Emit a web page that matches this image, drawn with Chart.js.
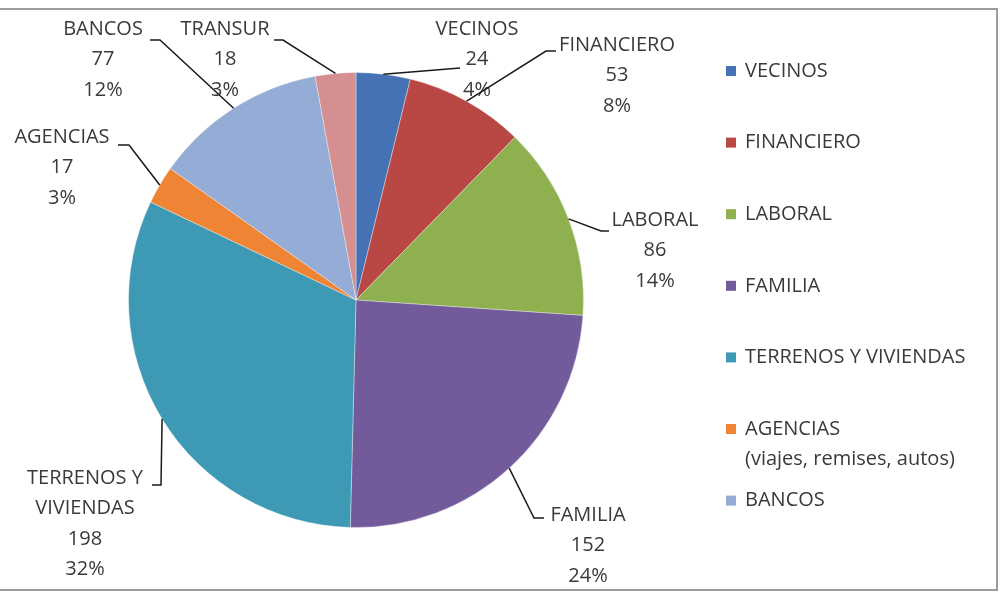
<!DOCTYPE html>
<html>
<head>
<meta charset="utf-8">
<script src="https://cdn.jsdelivr.net/npm/chart.js@4.4.1/dist/chart.umd.min.js"></script>
<style>
html,body{margin:0;padding:0;background:#fff;}
#wrap{width:1000px;height:600px;position:relative;}
</style>
</head>
<body>
<div id="wrap"><canvas id="c" width="1000" height="600"></canvas></div>
<script>
// ---- data ----
const categories = ['VECINOS','FINANCIERO','LABORAL','FAMILIA','TERRENOS Y VIVIENDAS','AGENCIAS','BANCOS','TRANSUR'];
const values = [24, 53, 86, 152, 198, 17, 77, 18];
const labelNames = [['VECINOS'],['FINANCIERO'],['LABORAL'],['FAMILIA'],['TERRENOS Y','VIVIENDAS'],['AGENCIAS'],['BANCOS'],['TRANSUR']];
const legendLabels = [['VECINOS'],['FINANCIERO'],['LABORAL'],['FAMILIA'],['TERRENOS Y VIVIENDAS'],['AGENCIAS','(viajes, remises, autos)'],['BANCOS']];
const colors = ['#4572B4','#B94744','#8FB04F','#735A9A','#3E9AB4','#EE8434','#94ACD6','#D58F91'];

const total = values.reduce((a,b)=>a+b,0);
const FONT = '20px "Open Sans", "DejaVu Sans", sans-serif';
const TEXT = '#3a3a3a';

// label layout: text center x, first line center y, elbow point, end point
const labelLayout = [
  {cx:477, cy:29, ex:460, ey:68, tx:460, ty:68},
  {cx:617, cy:45, ex:546, ey:51, tx:556, ty:51},
  {cx:655, cy:220, ex:601, ey:231, tx:609, ty:231},
  {cx:588, cy:515, ex:534, ey:518, tx:544, ty:518},
  {cx:85,  cy:478, ex:161, ey:485, tx:152, ty:485},
  {cx:62,  cy:137, ex:129, ey:145, tx:118, ty:145},
  {cx:103, cy:29,  ex:160, ey:40,  tx:150, ty:40},
  {cx:225, cy:29,  ex:283, ey:40,  tx:274, ty:40}
];
const LINE_H = 30.5;

const framePlugin = {
  id:'frame',
  beforeDraw(chart){
    const ctx = chart.ctx;
    ctx.save();
    ctx.fillStyle = '#fff';
    ctx.fillRect(0,0,chart.width,chart.height);
    ctx.strokeStyle = '#9c9c9c';
    ctx.lineWidth = 2;
    ctx.beginPath();
    ctx.moveTo(0,9); ctx.lineTo(997,9); ctx.lineTo(997,590); ctx.lineTo(0,590);
    ctx.stroke();
    ctx.restore();
  }
};

const labelPlugin = {
  id:'pieLabels',
  afterDatasetsDraw(chart){
    const ctx = chart.ctx;
    const meta = chart.getDatasetMeta(0);
    ctx.save();
    ctx.font = FONT;
    ctx.textAlign = 'center';
    ctx.textBaseline = 'middle';
    meta.data.forEach((arc, i) => {
      const p = arc.getProps(['x','y','startAngle','endAngle','outerRadius'], true);
      const mid = (p.startAngle + p.endAngle)/2;
      const ax = p.x + Math.cos(mid)*p.outerRadius;
      const ay = p.y + Math.sin(mid)*p.outerRadius;
      const L = labelLayout[i];
      ctx.strokeStyle = '#1a1a1a';
      ctx.lineWidth = 1.5;
      ctx.beginPath();
      ctx.moveTo(ax, ay);
      ctx.lineTo(L.ex, L.ey);
      ctx.lineTo(L.tx, L.ty);
      ctx.stroke();
      const lines = labelNames[i].concat([String(values[i]), Math.round(values[i]/total*100) + '%']);
      ctx.fillStyle = TEXT;
      lines.forEach((t, k) => ctx.fillText(t, L.cx, L.cy + k*LINE_H));
    });
    // legend
    const lx = 726, ltx = 745, ly0 = 71, step = 71.6, sub = 30;
    ctx.textAlign = 'left';
    legendLabels.forEach((lines, i) => {
      const y = ly0 + i*step;
      ctx.fillStyle = colors[i];
      ctx.fillRect(lx, y-5, 10, 10);
      ctx.fillStyle = TEXT;
      lines.forEach((t, k) => ctx.fillText(t, ltx, y + k*sub));
    });
    ctx.restore();
  }
};

new Chart(document.getElementById('c'), {
  type:'pie',
  data:{
    labels: categories,
    datasets:[{
      data: values,
      backgroundColor: colors,
      borderColor: 'rgba(255,255,255,0.35)',
      borderWidth: 1
    }]
  },
  options:{
    responsive:false,
    animation:false,
    layout:{padding:{left:128, right:416, top:72, bottom:72}},
    plugins:{legend:{display:false}, tooltip:{enabled:false}}
  },
  plugins:[framePlugin, labelPlugin]
});
</script>
</body>
</html>
